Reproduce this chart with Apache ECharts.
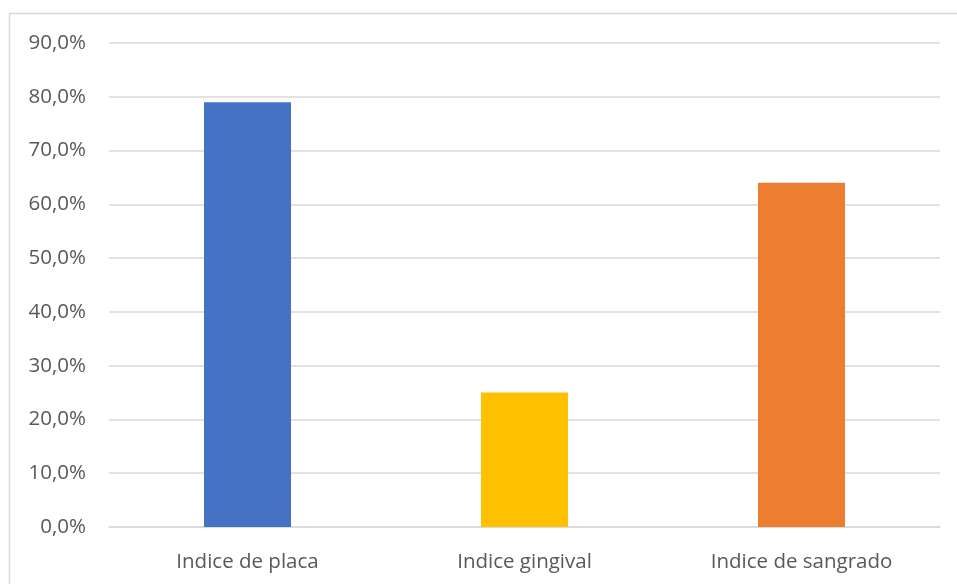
<!DOCTYPE html>
<html>
<head>
<meta charset="utf-8">
<script src="https://cdn.jsdelivr.net/npm/echarts@6/dist/echarts.min.js"></script>
<style>
  html, body { margin: 0; padding: 0; background: #fff; }
  #chart { width: 957px; height: 584px; }
</style>
</head>
<body>
<div id="chart"></div>
<script>
// Índices periodontales (%)
const categories = ['Indice de placa', 'Indice gingival', 'Indice de sangrado'];
const values = [79, 25, 64];
const barColors = ['#4472C4', '#FFC000', '#ED7D31'];
const yMax = 90;
const yStep = 10;

const chart = echarts.init(document.getElementById('chart'), null, { renderer: 'canvas' });

const fmtPct = v => v.toFixed(1).replace('.', ',') + '%';

chart.setOption({
  animation: false,
  backgroundColor: '#ffffff',
  textStyle: { fontFamily: '"Open Sans", sans-serif' },
  graphic: [{
    type: 'rect',
    shape: { x: 9.5, y: 13.5, width: 1000, height: 1000 },
    style: { fill: 'none', stroke: '#d9d9d9', lineWidth: 1.5 },
    silent: true
  }],
  grid: { left: 109, right: 17, top: 43, bottom: 57, containLabel: false },
  xAxis: {
    type: 'category',
    data: categories,
    axisLine: { show: true, lineStyle: { color: '#d9d9d9', width: 1.5 } },
    axisTick: { show: false },
    axisLabel: { color: '#595959', fontSize: 20.5, margin: 25 }
  },
  yAxis: {
    type: 'value',
    min: 0,
    max: yMax,
    interval: yStep,
    axisLine: { show: false },
    axisTick: { show: false },
    splitLine: { lineStyle: { color: '#d9d9d9', width: 1.5 } },
    axisLabel: { color: '#595959', fontSize: 20.5, margin: 23, formatter: fmtPct }
  },
  series: [{
    type: 'bar',
    barWidth: 87,
    data: values.map((v, i) => ({ value: v, itemStyle: { color: barColors[i] } }))
  }]
});
</script>
</body>
</html>
